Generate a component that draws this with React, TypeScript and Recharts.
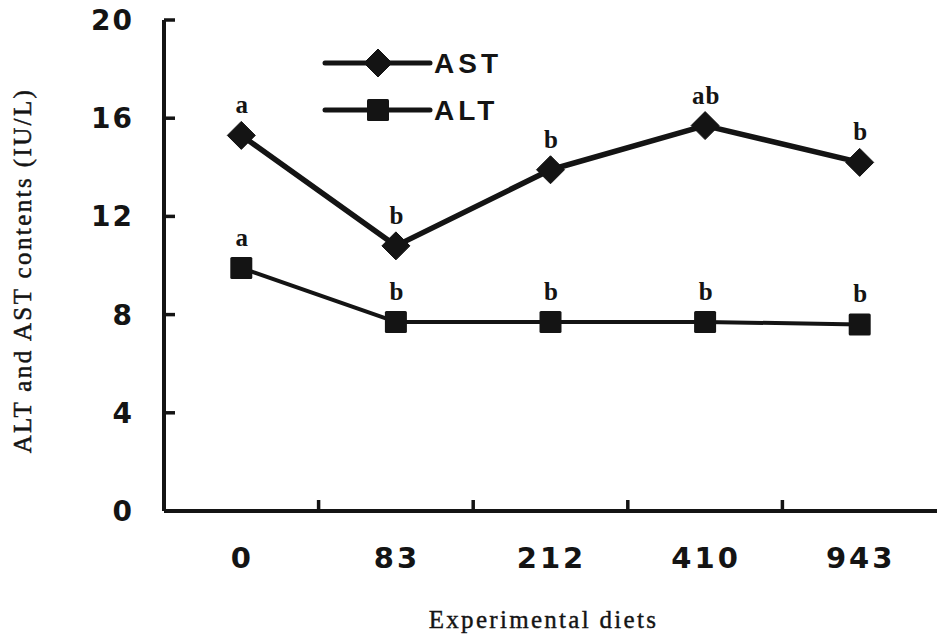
import React from 'react';
import { LineChart, Line, XAxis, YAxis, Legend, LabelList, Label } from 'recharts';

// Dietary levels (x categories) and serum enzyme contents (IU/L)
const diets = ['0', '83', '212', '410', '943'];
const astValues = [15.3, 10.8, 13.9, 15.7, 14.2];
const altValues = [9.9, 7.7, 7.7, 7.7, 7.6];
// Significance letters shown above each point
const astLetters = ['a', 'b', 'b', 'ab', 'b'];
const altLetters = ['a', 'b', 'b', 'b', 'b'];
const yTicks = [0, 4, 8, 12, 16, 20];

const data = diets.map((diet, i) => ({
  diet,
  ast: astValues[i],
  alt: altValues[i],
  astSig: astLetters[i],
  altSig: altLetters[i],
}));

const INK = '#141414';
const SANS = '"Liberation Sans", Arial, sans-serif';
const NUM = '"DejaVu Sans", sans-serif';
const SERIF = '"Liberation Serif", "Times New Roman", serif';
const TICK_SPACING = 2;
const MARK = 11;
// Axis tick geometry (tick size + margin = distance from axis to label anchor)
const Y_TICK_SIZE = 4;
const Y_TICK_MARGIN = 4;
const X_TICK_SIZE = 4;
const X_TICK_MARGIN = 31;
const CHART_W = 937;
const PLOT_LEFT = 164;

const Diamond = (props: any) => {
  const { cx, cy } = props;
  if (cx == null || cy == null) return null;
  const r = 14;
  return (
    <path
      d={`M${cx},${cy - r} L${cx + r},${cy} L${cx},${cy + r} L${cx - r},${cy} Z`}
      fill={INK}
      stroke={INK}
      strokeWidth={1}
      strokeLinejoin="round"
    />
  );
};

const Square = (props: any) => {
  const { cx, cy } = props;
  if (cx == null || cy == null) return null;
  const s = 22;
  return <rect x={cx - s / 2} y={cy - s / 2} width={s} height={s} fill={INK} rx={1.5} />;
};

// Y tick: inward mark on the axis plus the value label to its left
const YTick = (props: any) => {
  const { x, y, payload } = props;
  const axisX = x + Y_TICK_SIZE + Y_TICK_MARGIN;
  return (
    <g>
      <line x1={axisX} x2={axisX + MARK} y1={y} y2={y} stroke={INK} strokeWidth={3.5} />
      <text
        x={axisX - 32 + TICK_SPACING}
        y={y}
        dy={10}
        textAnchor="end"
        fontFamily={NUM}
        fontWeight="bold"
        fontSize={28}
        letterSpacing={TICK_SPACING}
        fill={INK}
      >
        {payload.value}
      </text>
    </g>
  );
};

// X tick: category label, plus an upward mark on the boundary before each group
const XTick = (props: any) => {
  const { x, y, payload, index } = props;
  const axisY = y - X_TICK_SIZE - X_TICK_MARGIN;
  const half =
    typeof payload.offset === 'number' && payload.offset > 0
      ? payload.offset
      : (CHART_W - PLOT_LEFT) / diets.length / 2;
  const edgeX = x - half;
  return (
    <g>
      {index > 0 && (
        <line x1={edgeX} x2={edgeX} y1={axisY} y2={axisY - MARK} stroke={INK} strokeWidth={3.5} />
      )}
      <text
        x={x + TICK_SPACING / 2}
        y={y}
        dy={22}
        textAnchor="middle"
        fontFamily={NUM}
        fontWeight="bold"
        fontSize={29}
        letterSpacing={TICK_SPACING + 1}
        fill={INK}
      >
        {payload.value}
      </text>
    </g>
  );
};

const SigLabel = (props: any) => {
  const { x, y, value } = props;
  if (x == null || y == null) return null;
  return (
    <text
      x={x + 1}
      y={y - 22}
      textAnchor="middle"
      fontFamily={SERIF}
      fontWeight="bold"
      fontSize={25}
      letterSpacing={1}
      fill={INK}
    >
      {value}
    </text>
  );
};

const YTitle = (props: any) => {
  const { viewBox } = props;
  const cx = 31;
  const cy = viewBox.y + viewBox.height / 2 + 5;
  return (
    <text
      x={cx}
      y={cy}
      transform={`rotate(-90 ${cx} ${cy})`}
      textAnchor="middle"
      fontFamily={SERIF}
      fontSize={25}
      letterSpacing={2.4}
      fill={INK}
      stroke={INK}
      strokeWidth={0.5}
    >
      ALT and AST contents (IU/L)
    </text>
  );
};

const XTitle = (props: any) => {
  const { viewBox } = props;
  const x = viewBox.x + viewBox.width / 2 - 7;
  const y = viewBox.y + viewBox.height - 12;
  return (
    <text
      x={x}
      y={y}
      textAnchor="middle"
      fontFamily={SERIF}
      fontSize={25}
      letterSpacing={2.3}
      fill={INK}
      stroke={INK}
      strokeWidth={0.4}
    >
      Experimental diets
    </text>
  );
};

const legendRows = [
  { name: 'AST', marker: 'diamond' },
  { name: 'ALT', marker: 'square' },
];

const LegendBox = () => (
  <svg width={200} height={110} style={{ display: 'block', overflow: 'visible' }}>
    {legendRows.map((row, i) => {
      const y = 33 + i * 47;
      return (
        <g key={row.name}>
          <line x1={5} x2={110} y1={y} y2={y} stroke={INK} strokeWidth={5} strokeLinecap="round" />
          {row.marker === 'diamond' ? <Diamond cx={58} cy={y} /> : <Square cx={58} cy={y} />}
          <text
            x={114}
            y={y + 10}
            fontFamily={SANS}
            fontWeight="bold"
            fontSize={28}
            letterSpacing={4}
            fill={INK}
          >
            {row.name}
          </text>
        </g>
      );
    })}
  </svg>
);

export default function App() {
  return (
    <div style={{ position: 'absolute', left: 0, top: 0, width: CHART_W, height: 640, background: '#fff' }}>
      <LineChart width={CHART_W} height={640} data={data} margin={{ top: 20, right: 0, bottom: 0, left: 0 }}>
        <XAxis
          dataKey="diet"
          scale="band"
          height={129}
          axisLine={{ stroke: INK, strokeWidth: 4 }}
          tickLine={false}
          tickSize={X_TICK_SIZE}
          tickMargin={X_TICK_MARGIN}
          tick={XTick}
          interval={0}
        >
          <Label content={XTitle} />
        </XAxis>
        <YAxis
          type="number"
          domain={[0, 20]}
          ticks={yTicks}
          interval={0}
          width={PLOT_LEFT}
          axisLine={{ stroke: INK, strokeWidth: 4 }}
          tickLine={false}
          tickSize={Y_TICK_SIZE}
          tickMargin={Y_TICK_MARGIN}
          tick={YTick}
        >
          <Label content={YTitle} />
        </YAxis>
        <Legend
          layout="vertical"
          align="center"
          verticalAlign="middle"
          content={LegendBox}
          wrapperStyle={{ position: 'absolute', top: 30, left: 320, width: 200, height: 110 }}
        />
        <Line
          type="linear"
          dataKey="ast"
          name="AST"
          stroke={INK}
          strokeWidth={5.5}
          strokeLinejoin="round"
          dot={Diamond}
          activeDot={false}
          isAnimationActive={false}
        >
          <LabelList dataKey="astSig" content={SigLabel} />
        </Line>
        <Line
          type="linear"
          dataKey="alt"
          name="ALT"
          stroke={INK}
          strokeWidth={4}
          strokeLinejoin="round"
          dot={Square}
          activeDot={false}
          isAnimationActive={false}
        >
          <LabelList dataKey="altSig" content={SigLabel} />
        </Line>
      </LineChart>
    </div>
  );
}
